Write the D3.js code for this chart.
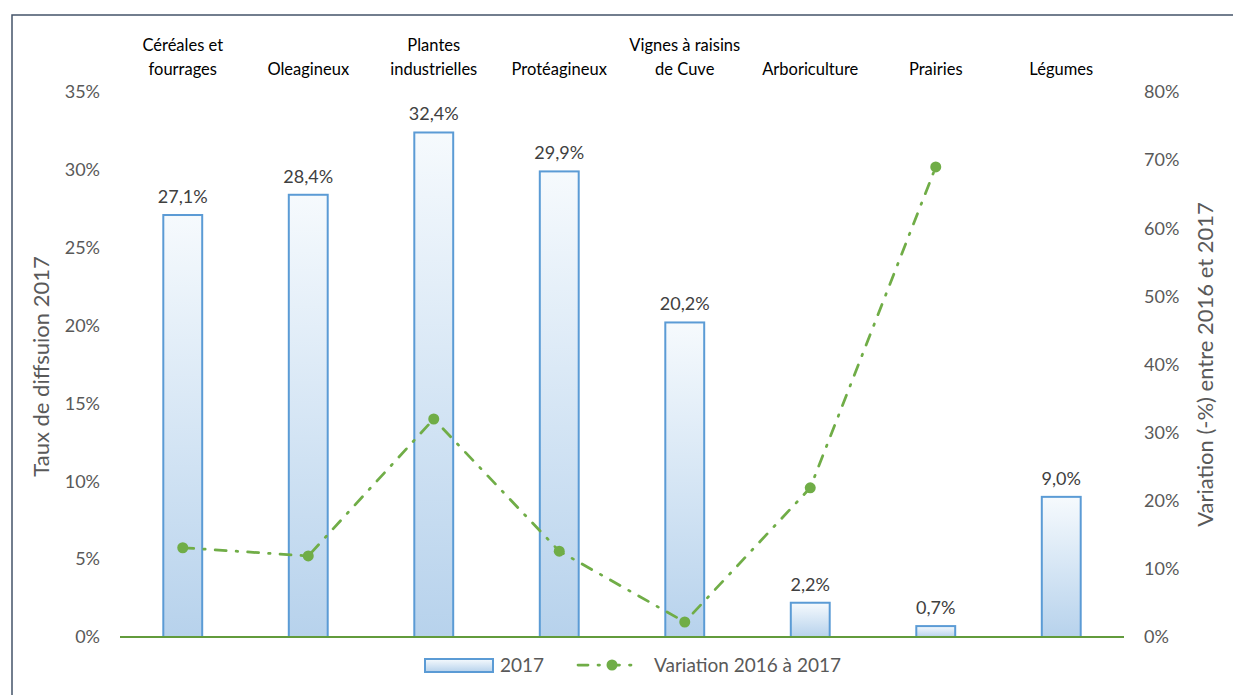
<!DOCTYPE html>
<html>
<head>
<meta charset="utf-8">
<script src="https://cdn.jsdelivr.net/npm/d3@7"></script>
<style>
  html, body { margin: 0; padding: 0; background: #fff; }
  svg { display: block; font-family: Lato, "Open Sans", sans-serif; }
</style>
</head>
<body>
<svg id="chart" width="1233" height="695"></svg>
<script>
// Crop categories (labels split on two lines where needed)
const categories = [
  ["Céréales et", "fourrages"],
  ["Oleagineux"],
  ["Plantes", "industrielles"],
  ["Protéagineux"],
  ["Vignes à raisins", "de Cuve"],
  ["Arboriculture"],
  ["Prairies"],
  ["Légumes"]
];
// Diffusion rate 2017 (%), left axis
const rate2017 = [27.1, 28.4, 32.4, 29.9, 20.2, 2.2, 0.7, 9.0];
// Variation 2016 -> 2017 (%), right axis (no value for Légumes)
const variation = [13.1, 11.9, 32.0, 12.6, 2.2, 21.9, 69.0, null];
const leftTicks = [0, 5, 10, 15, 20, 25, 30, 35];
const rightTicks = [0, 10, 20, 30, 40, 50, 60, 70, 80];

const svg = d3.select("#chart");
const plot = { left: 120, right: 1124, top: 92, bottom: 637 };

const x = d3.scaleBand()
  .domain(d3.range(categories.length))
  .range([plot.left, plot.right])
  .paddingInner(0.69)
  .paddingOuter(0.345);
const yL = d3.scaleLinear().domain([0, 35]).range([plot.bottom, plot.top]);
const yR = d3.scaleLinear().domain([0, 80]).range([plot.bottom, plot.top]);

// Outer frame
svg.append("path")
  .attr("d", "M12,700 L12,15 L1240,15")
  .attr("fill", "none")
  .attr("stroke", "#44546A")
  .attr("stroke-width", 1.5);

// Bar gradient
const defs = svg.append("defs");
const grad = defs.append("linearGradient")
  .attr("id", "barGrad").attr("x1", 0).attr("y1", 0).attr("x2", 0).attr("y2", 1);
grad.append("stop").attr("offset", "0%").attr("stop-color", "#F6FAFD");
grad.append("stop").attr("offset", "55%").attr("stop-color", "#D3E4F4");
grad.append("stop").attr("offset", "100%").attr("stop-color", "#B7D2EC");

// Left axis ticks
const axisL = d3.axisLeft(yL).tickValues(leftTicks).tickFormat(d => d + "%").tickSize(0).tickPadding(20);
const gL = svg.append("g").attr("transform", `translate(${plot.left},0)`).call(axisL);
gL.select(".domain").remove();
gL.selectAll("text").attr("font-size", 18).attr("fill", "#595959")
  .attr("font-family", "Lato, sans-serif");

// Right axis ticks
const axisR = d3.axisRight(yR).tickValues(rightTicks).tickFormat(d => d + "%").tickSize(0).tickPadding(20);
const gR = svg.append("g").attr("transform", `translate(${plot.right},0)`).call(axisR);
gR.select(".domain").remove();
gR.selectAll("text").attr("font-size", 18).attr("fill", "#595959")
  .attr("font-family", "Lato, sans-serif");

// Bars
svg.append("g").selectAll("rect")
  .data(rate2017)
  .join("rect")
  .attr("x", (d, i) => x(i))
  .attr("y", d => yL(d))
  .attr("width", x.bandwidth())
  .attr("height", d => yL(0) - yL(d))
  .attr("fill", "url(#barGrad)")
  .attr("stroke", "#5B9BD5")
  .attr("stroke-width", 2);

// Bar value labels
svg.append("g").selectAll("text")
  .data(rate2017)
  .join("text")
  .attr("x", (d, i) => x(i) + x.bandwidth() / 2)
  .attr("y", d => yL(d) - 12)
  .attr("text-anchor", "middle")
  .attr("font-size", 18)
  .attr("fill", "#404040")
  .text(d => d.toFixed(1).replace(".", ",") + "%");

// Baseline
svg.append("line")
  .attr("x1", plot.left).attr("x2", plot.right)
  .attr("y1", yL(0)).attr("y2", yL(0))
  .attr("stroke", "#629B3C").attr("stroke-width", 2);

// Variation line
const pts = variation.map((v, i) => ({ i, v })).filter(p => p.v !== null);
const line = d3.line().x(p => x(p.i) + x.bandwidth() / 2).y(p => yR(p.v));
svg.append("path")
  .datum(pts)
  .attr("d", line)
  .attr("fill", "none")
  .attr("stroke", "#70AD47")
  .attr("stroke-width", 2.75)
  .attr("stroke-dasharray", "11,10,1.5,10")
  .attr("stroke-linecap", "round");
svg.append("g").selectAll("circle")
  .data(pts)
  .join("circle")
  .attr("cx", p => x(p.i) + x.bandwidth() / 2)
  .attr("cy", p => yR(p.v))
  .attr("r", 5.5)
  .attr("fill", "#70AD47");

// Category labels above the plot
const cat = svg.append("g").selectAll("text")
  .data(categories)
  .join("text")
  .attr("x", (d, i) => x(i) + x.bandwidth() / 2)
  .attr("text-anchor", "middle")
  .attr("font-size", 16.5)
  .attr("fill", "#000");
cat.each(function(lines) {
  const t = d3.select(this);
  const startY = lines.length === 2 ? 51 : 75;
  lines.forEach((ln, k) => {
    t.append("tspan").attr("x", t.attr("x")).attr("y", startY + k * 24).text(ln);
  });
});

// Axis titles
svg.append("text")
  .attr("transform", `translate(49,${(plot.top + plot.bottom) / 2 + 2}) rotate(-90)`)
  .attr("text-anchor", "middle")
  .attr("font-size", 22)
  .attr("fill", "#595959")
  .text("Taux de diffsuion 2017");
svg.append("text")
  .attr("transform", `translate(1213,${(plot.top + plot.bottom) / 2}) rotate(-90)`)
  .attr("text-anchor", "middle")
  .attr("font-size", 22)
  .attr("fill", "#595959")
  .text("Variation (-%) entre 2016 et 2017");

// Legend
const leg = svg.append("g");
leg.append("rect")
  .attr("x", 425).attr("y", 659).attr("width", 68).attr("height", 13)
  .attr("fill", "url(#barGrad)").attr("stroke", "#5B9BD5").attr("stroke-width", 2);
leg.append("text").attr("x", 500).attr("y", 672).attr("font-size", 19).attr("fill", "#595959").text("2017");
leg.append("line")
  .attr("x1", 578).attr("x2", 640).attr("y1", 665).attr("y2", 665)
  .attr("stroke", "#70AD47").attr("stroke-width", 2.75)
  .attr("stroke-dasharray", "10,10,1.5,10").attr("stroke-linecap", "round");
leg.append("circle").attr("cx", 612).attr("cy", 665).attr("r", 5.5).attr("fill", "#70AD47");
leg.append("text").attr("x", 654).attr("y", 672).attr("font-size", 19).attr("fill", "#595959").text("Variation 2016 à 2017");
</script>
</body>
</html>
